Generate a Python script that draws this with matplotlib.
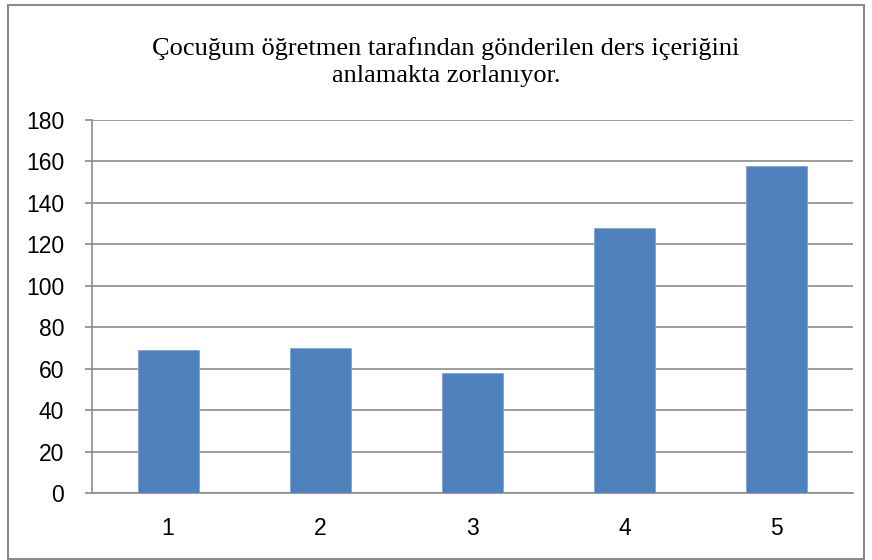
import matplotlib.pyplot as plt
from matplotlib.patches import Rectangle

categories = ["1", "2", "3", "4", "5"]
values = [69, 70, 58, 128, 158]
yticks = [0, 20, 40, 60, 80, 100, 120, 140, 160, 180]
title = "Çocuğum öğretmen tarafından gönderilen ders içeriğini\nanlamakta zorlanıyor."

W, H = 872, 560
fig = plt.figure(figsize=(W / 100, H / 100), dpi=100)

# plot area in pixels: x 92..853, y 120..493
ax = fig.add_axes([92 / W, 1 - 493 / H, (853 - 92) / W, (493 - 120) / H])
x = range(len(categories))
ax.bar(x, values, width=0.4, color="#4F81BD", edgecolor="#7FA3D0", linewidth=0.6, zorder=3)

ax.set_xlim(-0.5, len(categories) - 0.5)
ax.set_ylim(0, 180)
ax.set_yticks(yticks)
ax.set_xticks(list(x))
ax.set_xticklabels(categories)
ax.yaxis.grid(True, color="#8c8c8c", linewidth=1.2, zorder=0)

for s in ["top", "right"]:
    ax.spines[s].set_visible(False)
for s in ["left", "bottom"]:
    ax.spines[s].set_color("#8c8c8c")
    ax.spines[s].set_linewidth(1.2)

ax.tick_params(axis="y", length=5, color="#8c8c8c", width=1.2, pad=15,
               labelsize=16.5, labelfontfamily="Liberation Sans")
ax.tick_params(axis="x", length=0, pad=17, labelsize=16.5, labelfontfamily="Liberation Sans")

fig.text(446 / W, 1 - 62 / H, title, ha="center", va="center",
         fontsize=19, family="Liberation Serif", linespacing=1.3)

# outer chart border
fig.patches.append(Rectangle((8 / W, 1 - 559 / H), (864 - 8) / W, (559 - 5) / H,
                             transform=fig.transFigure, fill=False,
                             edgecolor="#8c8c8c", linewidth=1.5))

fig.savefig("out.png", dpi=100)
